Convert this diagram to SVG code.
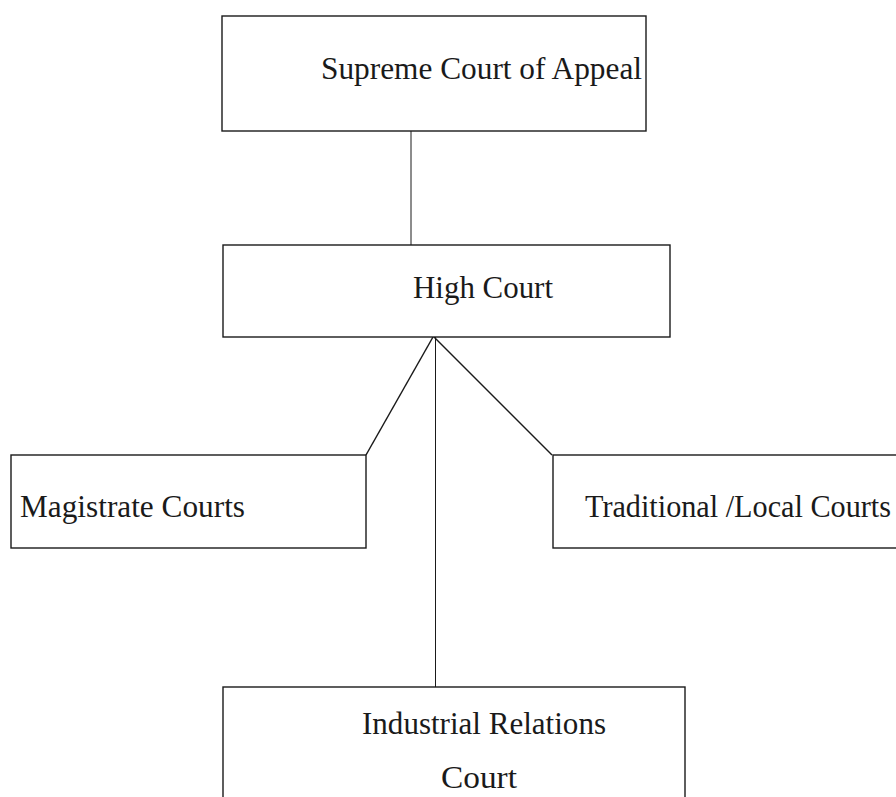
<svg xmlns="http://www.w3.org/2000/svg" width="896" height="797" viewBox="0 0 896 797">
<style>
.box{fill:#fff;stroke:#1a1a1a;stroke-width:1.4}
.lbl{font-family:"Liberation Serif","Times New Roman",serif;font-size:31px;fill:#1a1a1a}
.edge{stroke:#1a1a1a;fill:none}
</style>
<rect width="896" height="797" fill="#fff"/>
<g id="connectors">
<line class="edge" x1="411" y1="131" x2="411" y2="246" stroke-width="1" stroke="#555"/>
<line class="edge" x1="433" y1="337" x2="366" y2="455" stroke-width="1.5"/>
<line class="edge" x1="434" y1="337" x2="552" y2="455" stroke-width="1.5"/>
<line class="edge" x1="435.5" y1="337" x2="435.5" y2="688" stroke-width="1" stroke="#444"/>
</g>
<g id="supreme">
<rect class="box" x="222" y="16" width="424" height="115"/>
<text class="lbl" x="321" y="79" textLength="321" lengthAdjust="spacingAndGlyphs">Supreme Court of Appeal</text>
</g>
<g id="high">
<rect class="box" x="223" y="245" width="447" height="92"/>
<text class="lbl" x="413" y="298" textLength="140" lengthAdjust="spacingAndGlyphs">High Court</text>
</g>
<g id="magistrate">
<rect class="box" x="11" y="455" width="355" height="93"/>
<text class="lbl" x="20" y="517" textLength="225" lengthAdjust="spacingAndGlyphs">Magistrate Courts</text>
</g>
<g id="traditional">
<rect class="box" x="553" y="455" width="360" height="93"/>
<text class="lbl" x="585" y="517" textLength="306" lengthAdjust="spacingAndGlyphs">Traditional /Local Courts</text>
</g>
<g id="industrial">
<rect class="box" x="223" y="687" width="462" height="130"/>
<text class="lbl" x="362" y="734" textLength="244" lengthAdjust="spacingAndGlyphs">Industrial Relations</text>
<text class="lbl" x="441" y="788" textLength="76" lengthAdjust="spacingAndGlyphs">Court</text>
</g>
</svg>
